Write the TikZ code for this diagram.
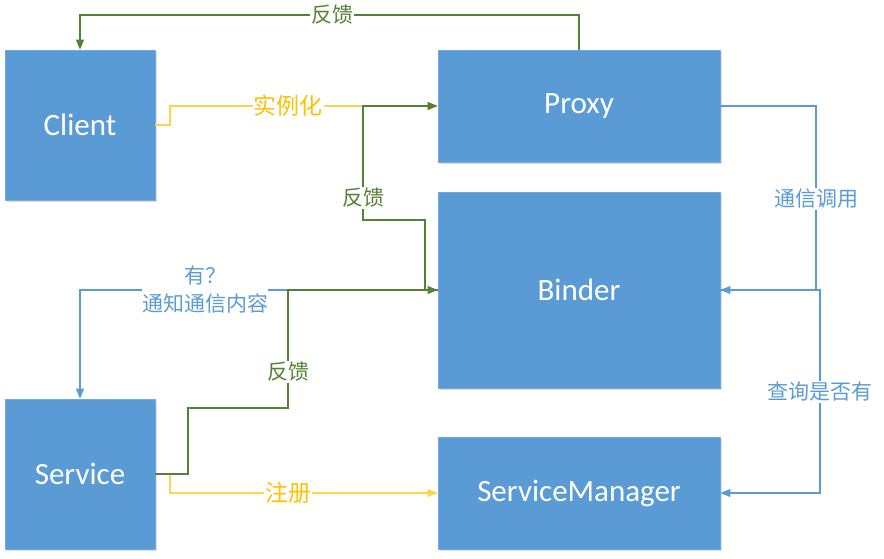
\documentclass[tikz,border=0pt]{standalone}
\usepackage{fontspec}
\setmainfont{Carlito}
\newfontfamily\cjk{Noto Sans CJK SC}
\usetikzlibrary{arrows.meta,shadows}
\definecolor{boxblue}{HTML}{5B9BD5}
\definecolor{fbgreen}{HTML}{548235}
\definecolor{ylw}{HTML}{FFC000}
\definecolor{ylwline}{HTML}{FFD34D}
\begin{document}
\begin{tikzpicture}[x=1pt,y=-1pt,
  box/.style={fill=boxblue, draw=boxblue!85!white, line width=0.8pt, text=white,
    font=\fontsize{31}{36}\selectfont, inner sep=0pt,
    drop shadow={opacity=0.25, shadow xshift=1.5pt, shadow yshift=-1.5pt}},
  conn/.style={line width=1.1pt},
  tip/.style={-{Triangle[length=10pt,width=8pt]}},
  lbl/.style={fill=white, inner sep=1pt, font=\cjk\fontsize{21}{25}\selectfont},
  biglbl/.style={fill=white, inner sep=1pt, font=\cjk\fontsize{23}{27}\selectfont, text=ylw},
]
\useasboundingbox (0,0) rectangle (884,558);

\node[box, minimum width=150pt, minimum height=150pt] (client) at (80,125) {Client};
\node[box, minimum width=282pt, minimum height=112pt] (proxy) at (579,106) {Proxy};
\node[box, minimum width=282pt, minimum height=196pt] (binder) at (579,290) {Binder};
\node[box, minimum width=150pt, minimum height=150pt] (service) at (80,474) {Service};
\node[box, minimum width=282pt, minimum height=112pt] (sm) at (579,493) {ServiceManager};

% yellow connectors
\draw[conn, ylwline, tip] (client.east) -- (170,125) |- (proxy.west);
\node[biglbl] (lshili) at (288,106) {实例化};
\draw[conn, ylwline, tip] (service.east) -- (170,474) |- (sm.west);
\node[biglbl] (lzhuce) at (288,493) {注册};

% blue notify
\draw[conn, boxblue, tip] (binder.west) -| (service.north);
\node[lbl, text=boxblue, align=center, inner sep=0pt] (lnotify) at (205,290) {有？\\[3pt]通知通信内容};

% green feedback connectors
\draw[conn, fbgreen, tip] (proxy.north) -- (proxy.north |- 0,15) -| (client.north);
\node[lbl, text=fbgreen] (lfb1) at (332,15) {反馈};
\draw[conn, fbgreen, tip] (binder.west) -- (425,290) -- (425,220) -- (363,220) |- (proxy.west);
\node[lbl, text=fbgreen] (lfb2) at (363,198) {反馈};
\draw[conn, fbgreen, tip] (service.east) -- (188,474) -- (188,408) -- (288,408) |- (binder.west);
\node[lbl, text=fbgreen] (lfb3) at (288,372) {反馈};

% right blue connectors
\draw[conn, boxblue, tip] (proxy.east) -- (816,106) |- (binder.east);
\node[lbl, text=boxblue] (lcall) at (816,199) {通信调用};
\draw[conn, boxblue, tip] (binder.east) -- (820,290) |- (sm.east);
\node[lbl, text=boxblue] (lquery) at (820,392) {查询是否有};
\end{tikzpicture}
\end{document}
